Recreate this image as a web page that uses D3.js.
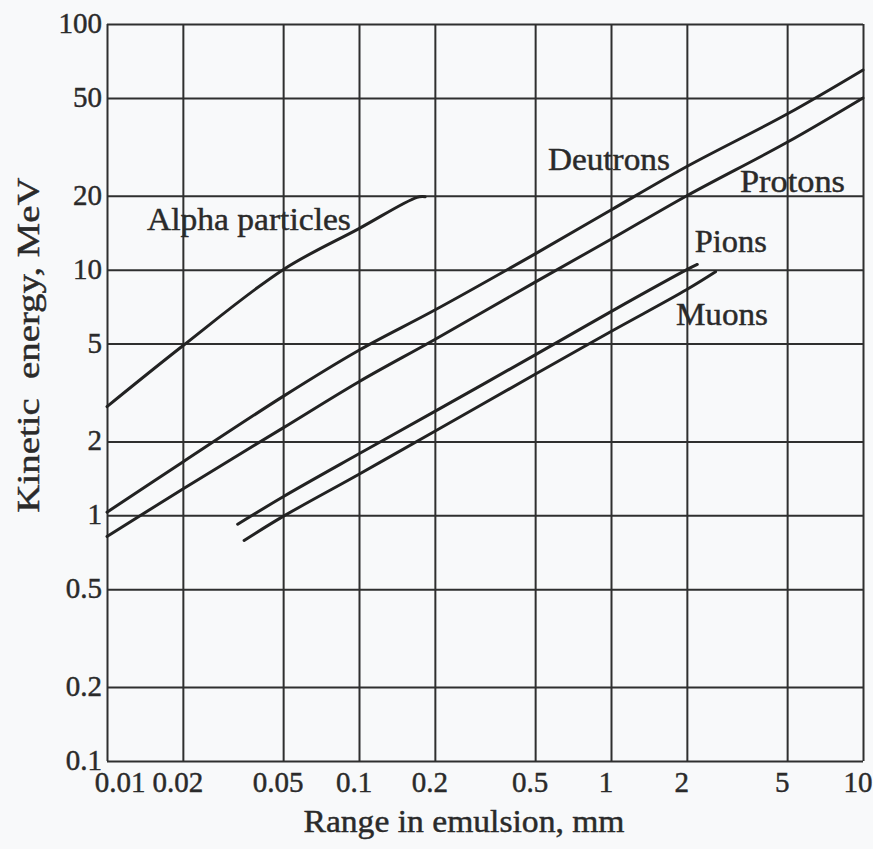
<!DOCTYPE html>
<html>
<head>
<meta charset="utf-8">
<script src="https://cdn.jsdelivr.net/npm/d3@7"></script>
<style>
  html, body { margin: 0; padding: 0; background: #f8f9fa; }
  svg { display: block; }
  text { font-family: "Liberation Serif", "Times New Roman", serif; fill: #2a2a2a; stroke: #2a2a2a; stroke-width: 0.45px; }
</style>
</head>
<body>
<svg id="chart" width="873" height="849"></svg>
<script>
// ---------- data ----------
const xTicks = [0.01, 0.02, 0.05, 0.1, 0.2, 0.5, 1, 2, 5, 10];
const xTickLabels = ["0.01", "0.02", "0.05", "0.1", "0.2", "0.5", "1", "2", "5", "10"];
const yTicks = [0.1, 0.2, 0.5, 1, 2, 5, 10, 20, 50, 100];
const yTickLabels = ["0.1", "0.2", "0.5", "1", "2", "5", "10", "20", "50", "100"];

const alphaRange  = [0.01, 0.02, 0.05, 0.1, 0.17, 0.183];
const alphaEnergy = [2.77, 4.9, 10, 14.7, 19.7, 19.8];

const deuteronRange  = [0.01, 0.02, 0.05, 0.1, 0.2, 0.5, 1, 2, 5, 10];
const deuteronEnergy = [1.03, 1.65, 3.05, 4.7, 6.85, 11.6, 17.5, 26.3, 43, 65];

const protonRange  = [0.01, 0.02, 0.05, 0.1, 0.2, 0.5, 1, 2, 5, 10];
const protonEnergy = [0.82, 1.28, 2.27, 3.5, 5.2, 8.9, 13.3, 20, 33, 50];

const pionRange  = [0.033, 0.05, 0.1, 0.2, 0.5, 1, 2, 2.2];
const pionEnergy = [0.92, 1.19, 1.78, 2.65, 4.5, 6.75, 10.0, 10.5];

const muonRange  = [0.035, 0.05, 0.1, 0.2, 0.5, 1, 2, 2.6];
const muonEnergy = [0.79, 0.99, 1.47, 2.2, 3.75, 5.6, 8.3, 9.8];

const curveNames = ["Alpha particles", "Deutrons", "Protons", "Pions", "Muons"];
// label anchor points in data units (range mm, energy MeV)
const labelRange  = [0.0144, 0.562, 3.25, 2.15, 1.81];
const labelEnergy = [14.5, 25.5, 20.7, 11.8, 5.98];

const xTitle = "Range in emulsion, mm";
const yTitle = "Kinetic  energy, MeV";

// ---------- drawing ----------
const svg = d3.select("#chart");
svg.append("rect").attr("width", 873).attr("height", 849).attr("fill", "#f8f9fa");

const x = d3.scaleLog().domain([0.01, 10]).range([107, 863]);
const y = d3.scaleLog().domain([0.1, 100]).range([761, 24]);

const gridColor = "#2f2f2f";
const gx = svg.append("g").attr("transform", "translate(0,761)")
  .call(d3.axisBottom(x).tickValues(xTicks).tickSize(-(761 - 24)).tickFormat(""));
gx.select(".domain").remove();
gx.selectAll("line").attr("stroke", gridColor).attr("stroke-width", 2);

const gy = svg.append("g").attr("transform", "translate(107,0)")
  .call(d3.axisLeft(y).tickValues(yTicks).tickSize(-(863 - 107)).tickFormat(""));
gy.select(".domain").remove();
gy.selectAll("line").attr("stroke", gridColor).attr("stroke-width", 2);

// tick labels
svg.append("g").selectAll("text").data(xTicks).join("text")
  .attr("x", (d, i) => x(d) + (i === 0 ? 13 : -5))
  .attr("y", 792)
  .attr("text-anchor", "middle")
  .attr("font-size", 29)
  .text((d, i) => xTickLabels[i]);

svg.append("g").selectAll("text").data(yTicks).join("text")
  .attr("x", 102)
  .attr("y", d => y(d) + 9)
  .attr("text-anchor", "end")
  .attr("font-size", 29)
  .text((d, i) => yTickLabels[i]);

// curves
const line = d3.line().x(d => x(d[0])).y(d => y(d[1])).curve(d3.curveCatmullRom.alpha(0.5));
const series = [
  [alphaRange, alphaEnergy],
  [deuteronRange, deuteronEnergy],
  [protonRange, protonEnergy],
  [pionRange, pionEnergy],
  [muonRange, muonEnergy]
];
svg.append("g").selectAll("path").data(series).join("path")
  .attr("d", s => line(s[0].map((r, i) => [r, s[1][i]])))
  .attr("fill", "none")
  .attr("stroke", "#222")
  .attr("stroke-width", 3)
  .attr("stroke-linecap", "round");

// curve labels
const labelWidths = [204, 122, 105, 72, 92];
svg.append("g").selectAll("text").data(curveNames).join("text")
  .attr("x", (d, i) => x(labelRange[i]))
  .attr("y", (d, i) => y(labelEnergy[i]))
  .attr("font-size", 32)
  .attr("textLength", (d, i) => labelWidths[i])
  .attr("lengthAdjust", "spacingAndGlyphs")
  .text(d => d);

// axis titles
svg.append("text")
  .attr("x", 464).attr("y", 832)
  .attr("text-anchor", "middle")
  .attr("font-size", 31)
  .attr("textLength", 321)
  .attr("lengthAdjust", "spacingAndGlyphs")
  .text(xTitle);

svg.append("text")
  .attr("transform", "translate(39,345) rotate(-90)")
  .attr("text-anchor", "middle")
  .attr("font-size", 32)
  .attr("textLength", 335)
  .attr("lengthAdjust", "spacingAndGlyphs")
  .style("white-space", "pre")
  .text(yTitle);
</script>
</body>
</html>
